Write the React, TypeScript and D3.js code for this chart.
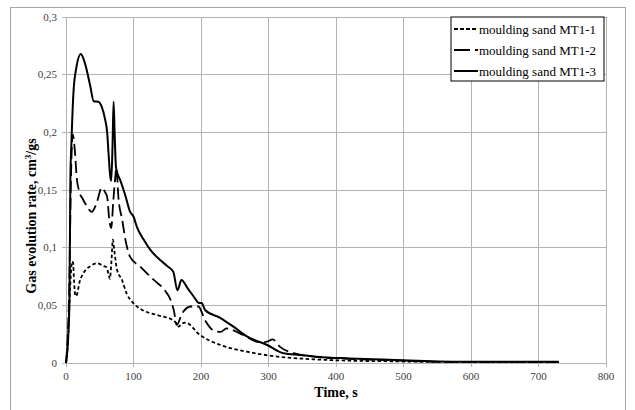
import React from 'react';
import * as d3 from 'd3';

const width = 635;
const height = 410;
const margin = { top: 17, left: 66, right: 29, bottom: 47 };

// x ticks / y ticks
const xTicks = [0, 100, 200, 300, 400, 500, 600, 700, 800];
const yTicks = [0, 0.05, 0.1, 0.15, 0.2, 0.25, 0.3];
const yTickLabels = ['0', '0,05', '0,1', '0,15', '0,2', '0,25', '0,3'];

const seriesNames = ['moulding sand MT1-1', 'moulding sand MT1-2', 'moulding sand MT1-3'];

// moulding sand MT1-1 (short dash)
const timeMT11 = [0, 3, 5, 7, 9, 10.5, 12, 14, 16, 20, 26, 36, 46, 56, 60, 63, 65, 67, 69.5, 71.5, 75.5, 83, 90, 98, 110, 135, 159, 164, 167, 171, 177, 199, 229, 268, 307, 367, 420, 480, 550, 650, 730];
const rateMT11 = [0, 0.02, 0.05, 0.075, 0.088, 0.087, 0.07, 0.058, 0.059, 0.07, 0.078, 0.084, 0.0864, 0.084, 0.083, 0.077, 0.073, 0.085, 0.107, 0.098, 0.081, 0.072, 0.06, 0.053, 0.047, 0.0416, 0.037, 0.034, 0.0315, 0.034, 0.035, 0.024, 0.0156, 0.0098, 0.006, 0.0032, 0.002, 0.0015, 0.001, 0.0008, 0.0008];

// moulding sand MT1-2 (long dash)
const timeMT12 = [0, 3, 5, 7, 10, 13, 16, 19, 25, 31, 38, 45, 53, 58, 61, 64, 67, 70, 73, 74.5, 78, 83, 88, 95, 110, 130, 145, 155, 160, 164, 172, 185, 196, 206, 219, 229, 238, 258, 288, 298, 306, 317, 337, 367, 406, 450, 500, 550, 650, 730];
const rateMT12 = [0, 0.03, 0.07, 0.15, 0.198, 0.185, 0.16, 0.15, 0.142, 0.136, 0.131, 0.138, 0.152, 0.148, 0.144, 0.125, 0.117, 0.14, 0.161, 0.169, 0.141, 0.125, 0.107, 0.092, 0.0835, 0.072, 0.064, 0.0546, 0.045, 0.033, 0.043, 0.049, 0.049, 0.037, 0.028, 0.027, 0.03, 0.0255, 0.018, 0.0185, 0.0205, 0.014, 0.0085, 0.0055, 0.004, 0.003, 0.002, 0.001, 0.001, 0.001];

// moulding sand MT1-3 (solid)
const timeMT13 = [0, 3, 5, 6.5, 8, 11, 15, 22, 28, 36, 41, 48, 53, 58, 61, 63, 65.5, 67, 69, 70.5, 72, 74, 77, 80, 88, 95, 100, 105, 115, 125, 140, 150, 159, 165, 171, 180, 190, 197, 201, 206, 229, 248, 268, 298, 322, 347, 380, 420, 470, 520, 600, 650, 730];
const rateMT13 = [0, 0.02, 0.05, 0.16, 0.19, 0.234, 0.255, 0.268, 0.26, 0.24, 0.227, 0.2266, 0.222, 0.211, 0.2, 0.182, 0.162, 0.158, 0.19, 0.2266, 0.2, 0.17, 0.163, 0.159, 0.145, 0.131, 0.127, 0.118, 0.107, 0.098, 0.089, 0.084, 0.079, 0.063, 0.072, 0.065, 0.057, 0.052, 0.052, 0.046, 0.039, 0.0315, 0.023, 0.0156, 0.0085, 0.007, 0.005, 0.004, 0.003, 0.002, 0.001, 0.001, 0.001];

const styles = [
    { dash: '3.5,2.5', legendDash: '4,2', width: 1.8 },
    { dash: '12,5', legendDash: '16,5', width: 1.8 },
    { dash: null, legendDash: null, width: 2 },
];

const serif = { fontFamily: "'Liberation Serif', 'Times New Roman', 'DejaVu Serif', serif" };

export default function App() {
    const x = d3.scaleLinear([0, 800], [margin.left, width - margin.right]);
    const y = d3.scaleLinear([0, 0.3], [height - margin.bottom, margin.top]);
    const line = d3.line<[number, number]>()
        .x(d => x(d[0]))
        .y(d => y(d[1]))
        .curve(d3.curveMonotoneX);

    const series = [
        d3.zip(timeMT11, rateMT11),
        d3.zip(timeMT12, rateMT12),
        d3.zip(timeMT13, rateMT13),
    ] as [number, number][][];

    const x0 = x(0), x1 = x(800), yb = y(0), yt = y(0.3);
    const legendX = 451, legendY = 17;

    return (
        <svg width={width} height={height} style={{ position: 'absolute', left: 0, top: 0, background: '#fff', ...serif }}>
            <rect x={10.5} y={7.5} width={615} height={420} fill='none' stroke='#a6a6a6' />
            <g stroke='#b3b3b3' strokeWidth={1} shapeRendering='crispEdges'>
                {xTicks.map(t => (
                    <line key={'gx' + t} x1={x(t)} x2={x(t)} y1={yt} y2={yb + 4} />
                ))}
                {yTicks.map(t => (
                    <line key={'gy' + t} x1={x0 - 4} x2={x1} y1={y(t)} y2={y(t)} />
                ))}
            </g>
            <g style={serif} fontSize={11} fill='#404040'>
                {xTicks.map(t => (
                    <text key={'tx' + t} x={x(t)} y={yb + 17} textAnchor='middle'>{t}</text>
                ))}
                {yTicks.map((t, i) => (
                    <text key={'ty' + t} x={x0 - 9} y={y(t) + 3.5} textAnchor='end'>{yTickLabels[i]}</text>
                ))}
            </g>
            <g fill='none' stroke='#000' strokeLinejoin='round'>
                {series.map((s, i) => (
                    <path key={i} d={line(s) || ''} strokeWidth={styles[i].width}
                        strokeDasharray={styles[i].dash || undefined} />
                ))}
            </g>
            <text x={(x0 + x1) / 2} y={397} textAnchor='middle' style={serif}
                fontSize={14} fontWeight='bold'>Time, s</text>
            <text transform={`translate(36,216) rotate(-90)`} textAnchor='middle' style={serif}
                fontSize={14} fontWeight='bold'>
                Gas evolution rate, cm<tspan dy={-5} fontSize={9}>3</tspan><tspan dy={5}>/gs</tspan>
            </text>
            <g>
                <rect x={legendX} y={legendY} width={153} height={64} fill='#fff' stroke='#000' strokeWidth={1} />
                {seriesNames.map((n, i) => {
                    const ly = legendY + 12 + i * 21;
                    return (
                        <g key={n}>
                            <line x1={legendX + 3} x2={legendX + 27} y1={ly} y2={ly} stroke='#000'
                                strokeWidth={2} strokeDasharray={styles[i].legendDash || undefined} />
                            <text x={legendX + 28} y={ly + 4.5} style={serif} fontSize={13}>{n}</text>
                        </g>
                    );
                })}
            </g>
        </svg>
    );
}
